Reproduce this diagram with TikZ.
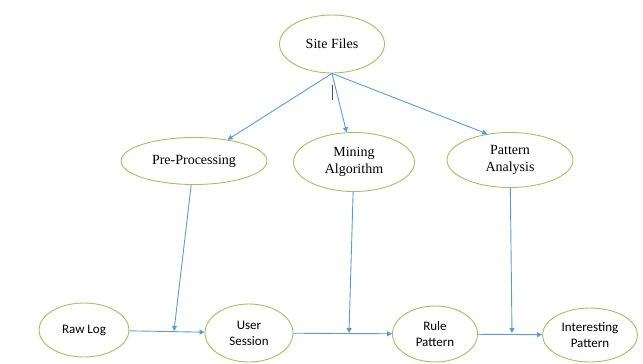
\documentclass[tikz,border=0pt]{standalone}
\usepackage{fontspec}
\setmainfont{Liberation Serif}
\newfontfamily\calibrifont{Carlito}
\usetikzlibrary{shapes.geometric,arrows.meta}

\definecolor{ovalgreen}{RGB}{160,192,100}
\definecolor{flowblue}{RGB}{91,155,213}

\def \lineWidth {0.9pt}

\tikzset{
  oval/.style={ellipse, draw=ovalgreen, line width=\lineWidth, inner sep=0pt,
    align=center, font=\fontsize{14}{17}\selectfont},
  sansoval/.style={oval, font=\calibrifont\fontsize{13}{16}\selectfont},
  flow/.style={draw=flowblue, line width=\lineWidth,
    -{Triangle[length=5pt,width=5pt]}}
}

\begin{document}
\begin{tikzpicture}[x=1pt,y=-1pt]
         \useasboundingbox (0,0) rectangle (643,364);
         % top
         \node[oval, minimum width=105, minimum height=58] (site) at (332,44) {Site Files};
         \draw[black!70, line width=0.8pt] (332,85) -- (332,100);
         % middle row
         \node[oval, minimum width=146, minimum height=47] (pre) at (194,161) {Pre-Processing};
         \node[oval, minimum width=121, minimum height=59] (mine) at (354,162) {Mining\\Algorithm};
         \node[oval, minimum width=126, minimum height=55] (pat) at (510,160) {Pattern\\Analysis};
         % bottom row
         \node[sansoval, minimum width=90, minimum height=54] (raw) at (84,330) {Raw Log};
         \node[sansoval, minimum width=88, minimum height=58] (user) at (249,333) {User\\Session};
         \node[sansoval, minimum width=85, minimum height=56] (rule) at (435,334) {Rule\\Pattern};
         \node[sansoval, minimum width=95, minimum height=54] (inter) at (590,335) {Interesting\\Pattern};
         \coordinate (m1) at (174,331);
         \coordinate (m2) at (349,333);
         \coordinate (m3) at (512,333);
         % arrows
         \draw[flow] (site.south) -- (pre);
         \draw[flow] (site.south) -- (mine);
         \draw[flow] (site.south) -- (pat.131);
         \draw[flow] (raw) -- (user);
         \draw[flow] (user) -- (rule);
         \draw[flow] (rule) -- (inter);
         \draw[flow] (pre) -- (m1);
         \draw[flow] (mine) -- (m2);
         \draw[flow] (pat) -- (m3);
      \end{tikzpicture}
\end{document}
